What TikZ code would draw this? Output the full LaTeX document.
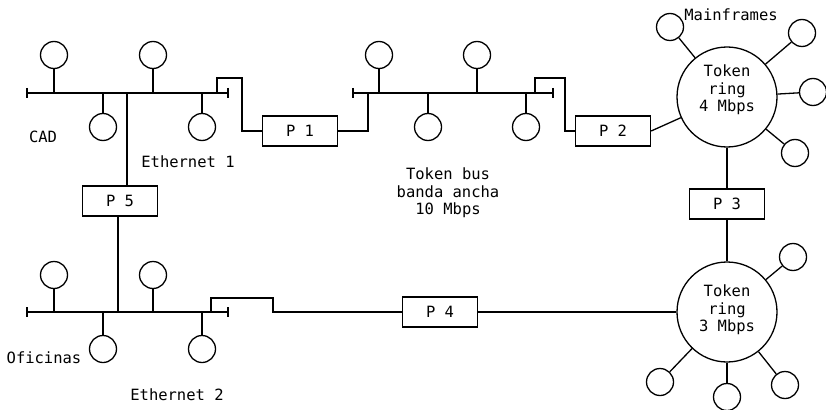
\documentclass[tikz,border=0pt]{standalone}
\usepackage{fontspec}
\setmainfont{DejaVu Sans Mono}
\begin{document}
\begin{tikzpicture}[x=1pt,y=-1pt,line width=1.3pt,
  sta/.style={circle,draw,minimum size=27pt,inner sep=0pt},
  gw/.style={draw,minimum width=75pt,minimum height=30pt,inner sep=0pt,font=\fontsize{15.5}{17.5}\selectfont},
  ringnode/.style={circle,draw,minimum size=100pt,inner sep=0pt},
  lbl/.style={font=\fontsize{15.5}{17.5}\selectfont,align=center,inner sep=0pt}]
\useasboundingbox (0,0) rectangle (826,409);

% ---------- Ethernet 1 ----------
\coordinate (e1a) at (27,93);
\coordinate (e1b) at (228,93);
\draw (e1a) -- (e1b);
\draw ([yshift=5pt]e1a) -- ([yshift=-5pt]e1a);
\draw ([yshift=5pt]e1b) -- ([yshift=-5pt]e1b);
\node[sta] (a1) at (54,55) {};
\node[sta] (a2) at (153,55) {};
\node[sta] (b1) at (103,127) {};
\node[sta] (b2) at (202,127) {};
\foreach \s in {a1,a2,b1,b2} \draw (\s) -- (\s |- e1a);

% ---------- Token bus ----------
\coordinate (tba) at (353,93);
\coordinate (tbb) at (553,93);
\draw (tba) -- (tbb);
\draw ([yshift=5pt]tba) -- ([yshift=-5pt]tba);
\draw ([yshift=5pt]tbb) -- ([yshift=-5pt]tbb);
\node[sta] (t1) at (379,55) {};
\node[sta] (t2) at (477,55) {};
\node[sta] (t3) at (428,127) {};
\node[sta] (t4) at (526,127) {};
\foreach \s in {t1,t2,t3,t4} \draw (\s) -- (\s |- tba);

% ---------- Ethernet 2 ----------
\coordinate (e2a) at (27,312);
\coordinate (e2b) at (228,312);
\draw (e2a) -- (e2b);
\draw ([yshift=5pt]e2a) -- ([yshift=-5pt]e2a);
\draw ([yshift=5pt]e2b) -- ([yshift=-5pt]e2b);
\node[sta] (c1) at (54,275) {};
\node[sta] (c2) at (153,275) {};
\node[sta] (d1) at (103,349) {};
\node[sta] (d2) at (202,349) {};
\foreach \s in {c1,c2,d1,d2} \draw (\s) -- (\s |- e2a);

% ---------- Rings ----------
\node[ringnode] (r1) at (727,97) {};
\node[lbl] (r1t) at (727,90) {Token\\ring\\4 Mbps};
\node[ringnode] (r2) at (727,312) {};
\node[lbl] (r2t) at (727,310) {Token\\ring\\3 Mbps};

\node[sta] (m1) at (670,27) {};
\node[sta] (m2) at (802,33) {};
\node[sta] (m3) at (813,92) {};
\node[sta] (m4) at (795,153) {};
\foreach \s in {m1,m2,m3,m4} \draw (r1) -- (\s);

\node[sta] (n1) at (793,257) {};
\node[sta] (n2) at (660,382) {};
\node[sta] (n3) at (727,397) {};
\node[sta] (n4) at (785,385) {};
\foreach \s in {n1,n2,n3,n4} \draw (r2) -- (\s);

% ---------- Gateways ----------
\node[gw] (p1) at (300,131) {P 1};
\node[gw] (p2) at (613,131) {P 2};
\node[gw] (p3) at (727,204) {P 3};
\node[gw] (p4) at (440,312) {P 4};
\node[gw] (p5) at (120,201) {P 5};

\coordinate (g1) at (217,93);
\draw (g1) -- (217,78) -- (242,78) |- (p1.west);
\coordinate (tbin) at (368,93);
\draw (p1.east) -| (tbin);
\coordinate (g2) at (535,93);
\draw (g2) -- (535,78) -- (565,78) |- (p2.west);
\draw (p2.east) -- (r1);
\draw (r1) -- (p3);
\draw (p3) -- (r2);
\coordinate (e1v) at (127,93);
\draw (e1v) -- (e1v |- p5.north);
\coordinate (e2v) at (118,312);
\draw (e2v |- p5.south) -- (e2v);
\coordinate (g3) at (211,312);
\draw (g3) -- (211,298) -- (273,298) -- (273,312) -- (p4.west);
\draw (p4.east) -- (r2);

% ---------- Labels ----------
\node[lbl] (cad) at (43,137) {CAD};
\node[lbl] (eth1) at (188,162) {Ethernet 1};
\node[lbl] (tbus) at (448,193) {Token bus\\banda ancha\\10 Mbps};
\node[lbl] (mf) at (731,15) {Mainframes};
\node[lbl] (ofi) at (44,358) {Oficinas};
\node[lbl] (eth2) at (177,395) {Ethernet 2};
\end{tikzpicture}
\end{document}
